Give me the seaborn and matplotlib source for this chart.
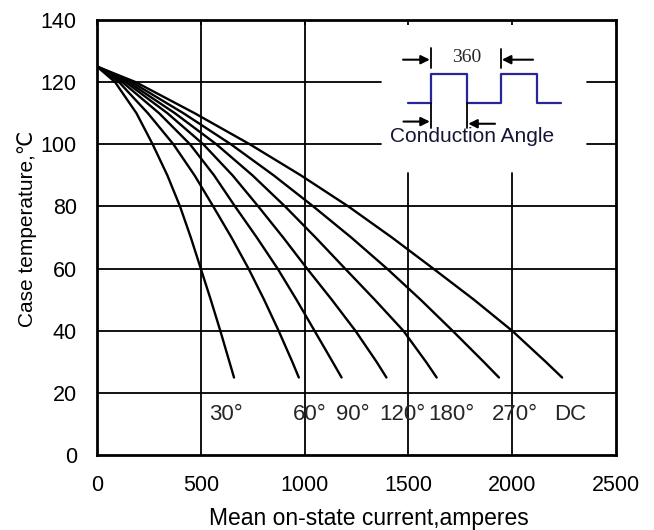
import matplotlib
matplotlib.use("Agg")
import matplotlib.pyplot as plt
import pandas as pd
import seaborn as sns

# Case temperature levels (°C) at which each rating curve is tabulated
case_temp = [125, 120, 110, 100, 90, 80, 70, 60, 50, 40, 30, 25]

# Mean on-state current (A) at each case temperature, per conduction angle
current_30 = [0, 87, 190, 268, 339, 400, 452, 500, 548, 594, 638, 660]
current_60 = [0, 106, 245, 368, 470, 560, 648, 730, 805, 875, 941, 972]
current_90 = [0, 122, 299, 448, 564, 665, 770, 870, 961, 1048, 1135, 1178]
current_120 = [0, 138, 339, 512, 653, 777, 897, 1012, 1131, 1245, 1347, 1394]
current_180 = [0, 151, 375, 575, 749, 906, 1053, 1195, 1338, 1476, 1585, 1636]
current_270 = [0, 167, 416, 645, 851, 1042, 1225, 1397, 1559, 1713, 1863, 1936]
current_dc = [0, 186, 470, 736, 982, 1211, 1421, 1620, 1816, 2000, 2162, 2240]

angle_labels = ["30°", "60°", "90°", "120°", "180°", "270°", "DC"]
x_ticks = [0, 500, 1000, 1500, 2000, 2500]
y_ticks = [0, 20, 40, 60, 80, 100, 120, 140]

series = [current_30, current_60, current_90, current_120,
          current_180, current_270, current_dc]
rows = []
for name, currents in zip(angle_labels, series):
    for c, t in zip(currents, case_temp):
        rows.append({"angle": name, "current": c, "temp": t})
df = pd.DataFrame(rows)

sns.set_theme(style="white")
plt.rcParams["font.family"] = ["Liberation Sans", "DejaVu Sans"]
plt.rcParams["axes.unicode_minus"] = False

fig = plt.figure(figsize=(6.54, 5.30), dpi=100)
ax = fig.add_axes([0.1483, 0.141, 0.7937, 0.8215])

# grid: some lines are cut short where the waveform sketch sits
gkw = dict(color="black", lw=1.3, zorder=1)
for v in [20, 40, 60, 80]:
    ax.axhline(v, **gkw)
for v in [100, 120]:
    ax.axhline(v, xmax=0.548, **gkw)
    ax.axhline(v, xmin=0.944, **gkw)
for v in [500, 1000]:
    ax.axvline(v, **gkw)
for v in [1500, 2000]:
    ax.axvline(v, ymax=0.648, **gkw)

sns.lineplot(data=df, x="current", y="temp", hue="angle",
             palette=["black"] * len(angle_labels), estimator=None,
             sort=False, legend=False, linewidth=1.7, ax=ax, zorder=3)

# curve labels along the bottom
label_x = [540, 944, 1151, 1358, 1594, 1903, 2201]
for lx, txt in zip(label_x, angle_labels):
    ax.text(lx, 11.4, txt, fontsize=16, ha="left", va="baseline", zorder=4)

# waveform sketch with dimension arrows
wave_x = [1500, 1607, 1607, 1784, 1784, 1946, 1946, 2121, 2121, 2235]
wave_y = [113.2, 113.2, 122.6, 122.6, 113.2, 113.2, 122.6, 122.6, 113.2, 113.2]
ax.plot(wave_x, wave_y, color="#26269a", lw=1.6, zorder=4)

bar_kw = dict(color="black", lw=1.3, zorder=4)
ax.plot([1607, 1607], [124.5, 130.9], **bar_kw)
ax.plot([1946, 1946], [124.5, 130.5], **bar_kw)
ax.plot([1607, 1607], [105.1, 113.2], **bar_kw)
ax.plot([1784, 1784], [105.1, 113.2], **bar_kw)

arr = dict(arrowstyle="-|>", color="black", lw=1.5, mutation_scale=13,
           shrinkA=0, shrinkB=0)
ax.annotate("", xy=(1603, 127.2), xytext=(1474, 127.2), arrowprops=arr, zorder=5)
ax.annotate("", xy=(1950, 127.2), xytext=(2100, 127.2), arrowprops=arr, zorder=5)
ax.annotate("", xy=(1603, 107.3), xytext=(1476, 107.3), arrowprops=arr, zorder=5)
ax.annotate("", xy=(1788, 106.6), xytext=(1917, 106.6), arrowprops=arr, zorder=5)

ax.text(1780, 126.6, "360", fontsize=14, family="Liberation Serif",
        ha="center", va="baseline", zorder=5)
ax.text(1411, 100.6, "Conduction Angle", fontsize=15, color="#151535",
        ha="left", va="baseline", zorder=5)

ax.set_xlim(0, 2500)
ax.set_ylim(0, 140)
ax.set_xticks(x_ticks)
ax.set_yticks(y_ticks)
ax.set_xticklabels([str(v) for v in x_ticks], fontsize=15.5)
ax.set_yticklabels([str(v) for v in y_ticks], fontsize=15.5)
ax.tick_params(axis="x", bottom=False, top=True, direction="in",
               length=3.5, width=1.3, pad=14.5, colors="black")
ax.tick_params(axis="y", left=False, length=0, pad=14.5, colors="black")

for s in ax.spines.values():
    s.set_color("black")
    s.set_linewidth(2.0)
    s.set_zorder(6)

ax.set_xlabel("Mean on-state current,amperes", fontsize=16.5, color="black")
ax.xaxis.label.set_va("baseline")
ax.xaxis.set_label_coords(0.523, -0.160)
ax.set_ylabel("Case temperature,℃", fontsize=15, color="black")
ax.yaxis.set_label_coords(-0.115, 0.52)

fig.savefig("out.png", dpi=100, facecolor="white")
